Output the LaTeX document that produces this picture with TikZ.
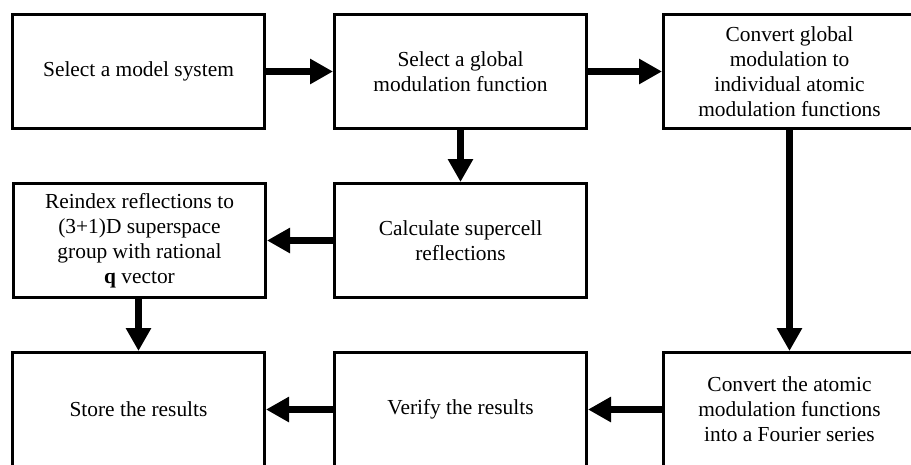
\documentclass[tikz,border=0pt]{standalone}
\usepackage{fontspec}
\setmainfont{Liberation Serif}
\usetikzlibrary{arrows.meta}
\tikzset{
  stepbox/.style={draw,line width=3pt,minimum width=252pt,minimum height=114pt,inner sep=0pt,align=center,font=\fontsize{21.4}{25}\selectfont},
  flow/.style={line width=7pt,-{Triangle[length=23pt,width=24pt]}}
}
\begin{document}
\begin{tikzpicture}[x=1pt,y=-1pt]
\clip (0,0) rectangle (911,464);
\fill[white] (0,0) rectangle (911,464);
\foreach \n/\x/\y/\t in {model/138.5/71.5/{Select a model system},
  global/460.5/71.5/{Select a global\\modulation function},
  convert/789.5/71.5/{Convert global\\modulation to\\individual atomic\\modulation functions},
  reindex/139.5/240.5/{Reindex reflections to\\(3+1)D superspace\\group with rational\\\textbf{q} vector},
  supercell/460.5/240.5/{Calculate supercell\\reflections},
  store/138.5/409.5/{Store the results},
  verify/460.5/409.5/{Verify the results},
  fourier/789.5/409.5/{Convert the atomic\\modulation functions\\into a Fourier series}} {
  \node[stepbox] (\n) at (\x,\y) {\t};
}
\draw[flow] (model) -- (global);
\draw[flow] (global) -- (convert);
\draw[flow] (global) -- (supercell);
\draw[flow] (supercell) -- (reindex);
\draw[flow] (reindex.south -| store) -- (store);
\draw[flow] (convert) -- (fourier);
\draw[flow] (fourier) -- (verify);
\draw[flow] (verify) -- (store);
\end{tikzpicture}
\end{document}
